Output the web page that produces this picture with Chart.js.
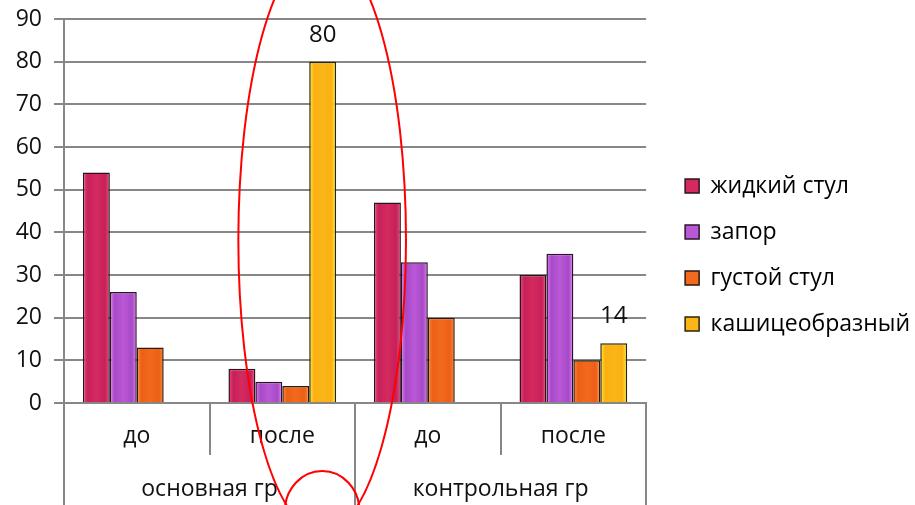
<!DOCTYPE html>
<html>
<head>
<meta charset="utf-8">
<script src="https://cdn.jsdelivr.net/npm/chart.js@4"></script>
<style>
  html, body { margin: 0; padding: 0; background: #fff; }
  #wrap { width: 915px; height: 505px; }
</style>
</head>
<body>
<div id="wrap"><canvas id="chart"></canvas></div>
<script>
const periods = ["до", "после", "до", "после"];
const groups = ["основная гр", "контрольная гр"];
const liquid = [54, 8, 47, 30];
const constipation = [26, 5, 33, 35];
const thick = [13, 4, 20, 10];
const mushy = [null, 80, null, 14];
const yTicks = [0, 10, 20, 30, 40, 50, 60, 70, 80, 90];

const gridGray = '#878787';
const font = 'Open Sans';

// base colour, edge highlight, centre shade, border
const palette = [
  ['#d42a5f', '#f24a82', '#c6205a', '#2b1418'],
  ['#bb58d8', '#e67cf6', '#a64ac6', '#2b1428'],
  ['#f26a1e', '#ff8a36', '#ee5e16', '#2b1a10'],
  ['#fbb516', '#fff032', '#fbb012', '#2b2410']
];

function barFill(i) {
  const [base, edge, mid] = palette[i];
  return ctx => {
    const chart = ctx.chart;
    if (ctx.type !== 'data') return base;
    const el = chart.getDatasetMeta(ctx.datasetIndex).data[ctx.dataIndex];
    if (!el || !isFinite(el.x) || !isFinite(el.width) || !el.width) return base;
    const x0 = el.x - el.width / 2;
    const g = chart.ctx.createLinearGradient(x0, 0, x0 + el.width, 0);
    g.addColorStop(0, edge);
    g.addColorStop(0.18, mid);
    g.addColorStop(0.5, base);
    g.addColorStop(0.82, mid);
    g.addColorStop(1, edge);
    return g;
  };
}

// value labels above the yellow bars
const valueLabels = {
  id: 'valueLabels',
  afterDatasetsDraw(chart) {
    const ctx = chart.ctx;
    const meta = chart.getDatasetMeta(3);
    ctx.save();
    ctx.font = '24px "' + font + '"';
    ctx.fillStyle = '#111';
    ctx.textAlign = 'center';
    ctx.textBaseline = 'middle';
    meta.data.forEach((bar, i) => {
      const v = mushy[i];
      if (v == null) return;
      ctx.fillText(String(v), bar.x, bar.y - 27);
    });
    ctx.restore();
  }
};

// push the legend a bit away from the plot, like the original
const legendNudge = {
  id: 'legendNudge',
  afterLayout(chart) {
    const lg = chart.legend;
    lg.left += 16; lg.right += 16;
    lg.top -= 7; lg.bottom -= 7;
  }
};

// hand-drawn red ellipse marks on top of the chart
const redMarks = {
  id: 'redMarks',
  afterDraw(chart) {
    const a = chart.chartArea;
    const w = a.right - a.left;
    const ctx = chart.ctx;
    ctx.save();
    ctx.strokeStyle = '#ff0000';
    ctx.lineWidth = 2;
    ctx.beginPath();
    ctx.ellipse(a.left + w * 0.4435, a.top + 221, w * 0.144, 293, 0, 0, Math.PI * 2);
    ctx.stroke();
    ctx.beginPath();
    ctx.ellipse(a.left + w * 0.4435, a.bottom + 108, w * 0.064, 40, 0, 0, Math.PI * 2);
    ctx.stroke();
    ctx.restore();
  }
};

const seriesNames = ['жидкий стул', 'запор', 'густой стул', 'кашицеобразный'];
const seriesData = [liquid, constipation, thick, mushy];

function draw() {
  const chart = new Chart(document.getElementById("chart"), {
    type: 'bar',
    data: {
      labels: periods,
      datasets: seriesData.map((d, i) => ({
        label: seriesNames[i],
        data: d,
        backgroundColor: barFill(i),
        borderColor: palette[i][3],
        borderWidth: 1.5
      }))
    },
    options: {
      responsive: true,
      maintainAspectRatio: false,
      animation: false,
      datasets: { bar: { barPercentage: 1, categoryPercentage: 0.74 } },
      layout: { padding: { top: 19, right: 11, left: 0, bottom: 0 } },
      plugins: {
        tooltip: { enabled: false },
        legend: {
          position: 'right',
          maxWidth: 400,
          labels: {
            font: { family: font, size: 23 },
            color: '#111',
            boxWidth: 14,
            boxHeight: 14,
            padding: 23,
            generateLabels: ch => ch.data.datasets.map((d, i) => ({
              text: d.label,
              fillStyle: palette[i][0],
              strokeStyle: palette[i][3],
              lineWidth: 1.5,
              hidden: false,
              datasetIndex: i
            }))
          }
        }
      },
      scales: {
        y: {
          min: 0,
          max: 90,
          afterBuildTicks: s => { s.ticks = yTicks.map(v => ({ value: v })); },
          afterFit: s => { s.width = 64; s.paddingTop = 0; s.paddingBottom = 0; },
          border: { color: gridGray, width: 2 },
          grid: { color: gridGray, lineWidth: 2, tickLength: 10 },
          ticks: { font: { family: font, size: 23 }, color: '#111', padding: 12 }
        },
        x: {
          afterFit: s => { s.height = 52; s.paddingLeft = 0; s.paddingRight = 0; },
          border: { color: gridGray, width: 2 },
          grid: { drawOnChartArea: false, color: gridGray, lineWidth: 2, tickLength: 52, offset: true },
          ticks: { font: { family: font, size: 23 }, color: '#111', padding: -32, maxRotation: 0 }
        },
        x2: {
          type: 'category',
          position: 'bottom',
          labels: groups,
          offset: true,
          afterFit: s => { s.height = 50; s.paddingLeft = 0; s.paddingRight = 0; },
          border: { display: false },
          grid: { drawOnChartArea: false, color: gridGray, lineWidth: 2, tickLength: 60, offset: true },
          ticks: { font: { family: font, size: 23 }, color: '#111', padding: -39, maxRotation: 0 }
        }
      }
    },
    plugins: [valueLabels, legendNudge, redMarks]
  });
  // second pass so bar gradients see the laid-out bars
  chart.update();
}

document.fonts.load('24px "' + font + '"').then(draw, draw);
</script>
</body>
</html>
